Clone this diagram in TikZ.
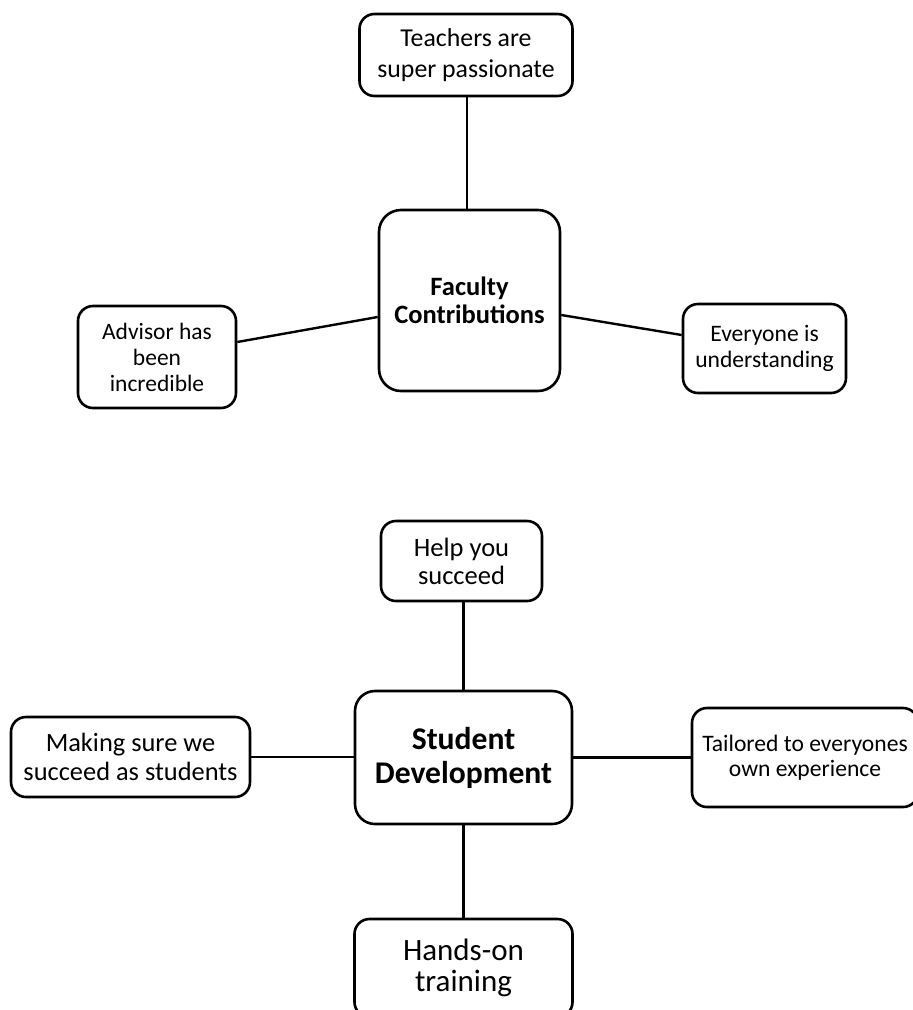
\documentclass[tikz,border=0pt]{standalone}
\usepackage{fontspec}
\setmainfont{Carlito}
\usetikzlibrary{calc}
\tikzset{
  box/.style={draw=black, line width=2.6pt, rounded corners=15pt, align=center, inner sep=0pt, fill=white},
  bigbox/.style={box, rounded corners=22pt},
  conn/.style={draw=black, line width=2.4pt}
}
\begin{document}
\begin{tikzpicture}[x=1pt,y=-1pt]
\useasboundingbox (0,0) rectangle (913,1010);
\clip (0,0) rectangle (913,1010);
% top group
\node[box, minimum width=213pt, minimum height=82pt, font=\fontsize{25.8}{31}\selectfont] (teach) at (466,55) {Teachers are\\super passionate};
\node[bigbox, minimum width=181pt, minimum height=181pt, font=\fontsize{26.5}{28}\selectfont\bfseries] (fac) at (469.5,300.5) {Faculty\\Contributions};
\node[box, minimum width=158pt, minimum height=102pt, font=\fontsize{23.5}{26}\selectfont] (adv) at (157,357) {Advisor has\\been\\incredible};
\node[box, minimum width=163pt, minimum height=89pt, font=\fontsize{23.6}{26}\selectfont] (every) at (764.5,348.5) {Everyone is\\understanding};
% bottom group
\node[box, minimum width=161pt, minimum height=80pt, font=\fontsize{26.5}{28}\selectfont] (help) at (461.5,561) {Help you\\succeed};
\node[bigbox, rounded corners=20pt, minimum width=217pt, minimum height=133pt, font=\fontsize{31.6}{34}\selectfont\bfseries] (stud) at (463.5,757.5) {Student\\Development};
\node[box, minimum width=239pt, minimum height=80pt, font=\fontsize{26.4}{28.5}\selectfont] (make) at (130.5,757) {Making sure we\\succeed as students};
\node[box, minimum width=226pt, minimum height=99pt, font=\fontsize{23.6}{25.5}\selectfont] (tail) at (805,757.5) {Tailored to everyones\\own experience};
\node[box, minimum width=218pt, minimum height=98pt, font=\fontsize{31}{31}\selectfont] (hands) at (463.5,968) {Hands-on\\training};
% connectors
\draw[conn] ($(teach.south)+(1,0)$) -- ($(teach.south |- fac.north)+(1,0)$);
\draw[conn] ($(adv.east)+(0,-15)$) -- ($(fac.west)+(0,16.5)$);
\draw[conn] ($(fac.east)+(0,14.5)$) -- ($(every.west)+(0,-13.5)$);
\draw[conn] (stud.north) -- (stud.north |- help.south);
\draw[conn] (make.east) -- (make.east -| stud.west);
\draw[conn] (stud.east) -- (stud.east -| tail.west);
\draw[conn] (stud.south) -- (stud.south |- hands.north);
\end{tikzpicture}
\end{document}
